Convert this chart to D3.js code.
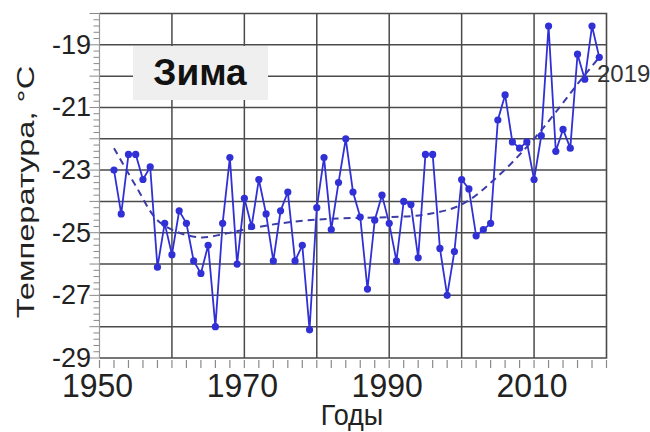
<!DOCTYPE html>
<html>
<head>
<meta charset="utf-8">
<script src="https://cdn.jsdelivr.net/npm/d3@7"></script>
<style>
  body { margin: 0; background: #fff; }
  svg { display: block; font-family: "Liberation Sans", Arial, sans-serif; }
</style>
</head>
<body>
<svg id="chart" width="650" height="432"></svg>
<script>
// Winter mean temperature, by year
const years = [1952, 1953, 1954, 1955, 1956, 1957, 1958, 1959, 1960, 1961,
  1962, 1963, 1964, 1965, 1966, 1967, 1968, 1969, 1970, 1971,
  1972, 1973, 1974, 1975, 1976, 1977, 1978, 1979, 1980, 1981,
  1982, 1983, 1984, 1985, 1986, 1987, 1988, 1989, 1990, 1991,
  1992, 1993, 1994, 1995, 1996, 1997, 1998, 1999, 2000, 2001,
  2002, 2003, 2004, 2005, 2006, 2007, 2008, 2009, 2010, 2011,
  2012, 2013, 2014, 2015, 2016, 2017, 2018, 2019];
const temps = [-23.0, -24.4, -22.5, -22.5, -23.3, -22.9, -26.1, -24.7, -25.7, -24.3,
  -24.7, -25.9, -26.3, -25.4, -28.0, -24.7, -22.6, -26.0, -23.9, -24.8,
  -23.3, -24.4, -25.9, -24.3, -23.7, -25.9, -25.4, -28.1, -24.2, -22.6,
  -24.9, -23.4, -22.0, -23.7, -24.5, -26.8, -24.6, -23.8, -24.7, -25.9,
  -24.0, -24.1, -25.8, -22.5, -22.5, -25.5, -27.0, -25.6, -23.3, -23.6,
  -25.1, -24.9, -24.7, -21.4, -20.6, -22.1, -22.3, -22.1, -23.3, -21.9,
  -18.4, -22.4, -21.7, -22.3, -19.3, -20.1, -18.4, -19.4];

// trend curve
const trendYears = [1952, 1955, 1958, 1961, 1964, 1967, 1970, 1975, 1980, 1985,
  1990, 1995, 2000, 2005, 2010, 2013, 2016, 2019];
const trendTemps = [-22.3, -23.5, -24.6, -25.0, -25.15, -25.05, -24.9, -24.7, -24.58, -24.53,
  -24.5, -24.42, -24.1, -23.2, -22.0, -21.15, -20.25, -19.4];

const xTickLabels = [1950, 1970, 1990, 2010];
const yTickLabels = [-29, -27, -25, -23, -21, -19];
const title = "Зима";
const lastLabel = "2019";

const svg = d3.select("#chart");

const x = d3.scaleLinear().domain([1950, 2020]).range([99.5, 606.5]);
const y = d3.scaleLinear().domain([-29, -18]).range([358, 13.5]);

const gridColor = "#4a4a4a";
const lineColor = "#3030d6";

// grid
svg.append("g")
  .selectAll("line")
  .data(d3.range(-28, -18))
  .join("line")
    .attr("x1", x(1950)).attr("x2", x(2020))
    .attr("y1", d => y(d)).attr("y2", d => y(d))
    .attr("stroke", gridColor).attr("stroke-width", 1.5);

svg.append("g")
  .selectAll("line")
  .data(d3.range(1960, 2020, 10))
  .join("line")
    .attr("x1", d => x(d)).attr("x2", d => x(d))
    .attr("y1", y(-29)).attr("y2", y(-18))
    .attr("stroke", gridColor).attr("stroke-width", 1.5);

// frame
svg.append("path")
  .attr("d", `M${x(1950)},${y(-18)}H${x(2020)}V${y(-29)}H${x(1950)}`)
  .attr("fill", "none").attr("stroke", gridColor).attr("stroke-width", 1.6);
svg.append("line")
  .attr("x1", x(1950)).attr("x2", x(1950))
  .attr("y1", y(-18)).attr("y2", y(-29))
  .attr("stroke", "#9a9a9a").attr("stroke-width", 1.2);

// left ticks
svg.append("g")
  .selectAll("line")
  .data(d3.range(0, 56).map(i => -29 + i * 0.2))
  .join("line")
    .attr("x1", x(1950))
    .attr("x2", (d, i) => x(1950) - (i % 5 === 0 ? 10 : 6))
    .attr("y1", d => y(d)).attr("y2", d => y(d))
    .attr("stroke", "#8a8a8a").attr("stroke-width", 1);

// bottom ticks
svg.append("g")
  .selectAll("line")
  .data(d3.range(1950, 2021, 2))
  .join("line")
    .attr("x1", d => x(d)).attr("x2", d => x(d))
    .attr("y1", y(-29) + 2).attr("y2", y(-29) + 10)
    .attr("stroke", "#8a8a8a").attr("stroke-width", 1.2);

// y tick labels
svg.append("g")
  .selectAll("text")
  .data(yTickLabels)
  .join("text")
    .attr("x", 91)
    .attr("y", d => y(d) + 9)
    .attr("text-anchor", "end")
    .attr("font-size", 27)
    .attr("fill", "#222")
    .text(d => d);

// x tick labels
svg.append("g")
  .selectAll("text")
  .data(xTickLabels)
  .join("text")
    .attr("transform", d => `translate(${x(d) - 2},397) scale(0.97,1)`)
    .attr("text-anchor", "middle")
    .attr("font-size", 33)
    .attr("fill", "#222")
    .text(d => d);

// axis titles
svg.append("text")
  .attr("transform", "translate(352,425) scale(0.9,1)")
  .attr("text-anchor", "middle")
  .attr("font-size", 30)
  .attr("fill", "#222")
  .text("Годы");

svg.append("text")
  .attr("transform", "translate(34,192) rotate(-90) scale(1.42,1)")
  .attr("text-anchor", "middle")
  .attr("font-size", 23)
  .attr("fill", "#222")
  .text("Температура, °С");

// title box
svg.append("rect")
  .attr("x", 133).attr("y", 46).attr("width", 135).attr("height", 54)
  .attr("fill", "#efefef");
svg.append("text")
  .attr("x", 200).attr("y", 85)
  .attr("text-anchor", "middle")
  .attr("font-size", 37)
  .attr("font-weight", "bold")
  .attr("fill", "#111")
  .text(title);

// trend
svg.append("path")
  .datum(trendYears.map((yr, i) => [yr, trendTemps[i]]))
  .attr("d", d3.line().x(d => x(d[0])).y(d => y(d[1])).curve(d3.curveCatmullRom))
  .attr("fill", "none")
  .attr("stroke", "#3d3da6")
  .attr("stroke-width", 2)
  .attr("stroke-dasharray", "7,5");

// data line
const pts = years.map((yr, i) => [yr, temps[i]]);
svg.append("path")
  .datum(pts)
  .attr("d", d3.line().x(d => x(d[0])).y(d => y(d[1])))
  .attr("fill", "none")
  .attr("stroke", lineColor)
  .attr("stroke-width", 1.8);

svg.append("g")
  .selectAll("circle")
  .data(pts)
  .join("circle")
    .attr("cx", d => x(d[0]))
    .attr("cy", d => y(d[1]))
    .attr("r", 3.6)
    .attr("fill", lineColor);

// last year label
svg.append("text")
  .attr("x", 597).attr("y", 82)
  .attr("font-size", 24)
  .attr("fill", "#333")
  .text(lastLabel);
</script>
</body>
</html>
